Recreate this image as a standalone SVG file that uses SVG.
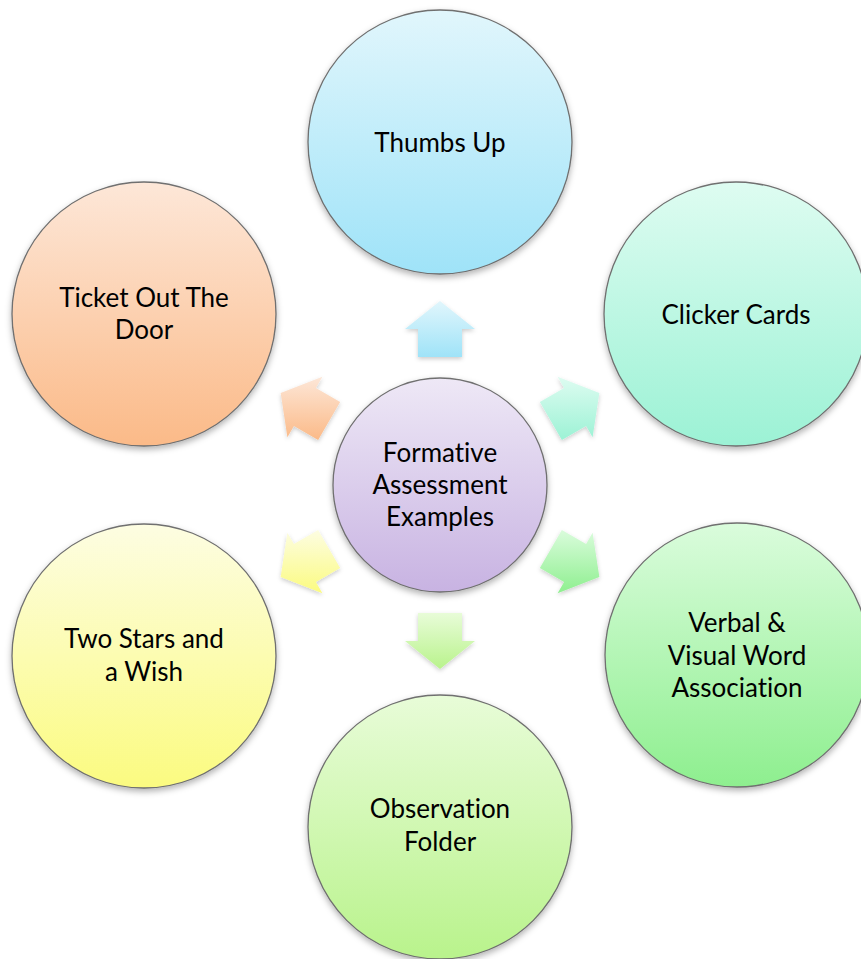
<svg xmlns="http://www.w3.org/2000/svg" width="861" height="959" viewBox="0 0 861 959">
<style>
.node circle{stroke:#6f6f6f;stroke-width:1.3;filter:url(#sh)}
.node text{font-family:Lato,"Liberation Sans",sans-serif;font-size:26px;fill:#000;text-anchor:middle;font-variant-ligatures:none;font-feature-settings:"liga" 0,"dlig" 0}
.arr{filter:url(#sh2)}
</style>
<defs>
<filter id="sh" x="-20%" y="-20%" width="140%" height="140%"><feDropShadow dx="0" dy="3" stdDeviation="3" flood-color="#000" flood-opacity="0.3"/></filter>
<filter id="sh2" x="-30%" y="-30%" width="160%" height="160%"><feDropShadow dx="0" dy="2" stdDeviation="2" flood-color="#000" flood-opacity="0.2"/></filter>
<linearGradient id="gBlue" x1="0" y1="0" x2="0" y2="1"><stop offset="0" stop-color="#e1f6fc"/><stop offset="1" stop-color="#9fe3f8"/></linearGradient>
<linearGradient id="gMint" x1="0" y1="0" x2="0" y2="1"><stop offset="0" stop-color="#defcf1"/><stop offset="1" stop-color="#9cf2d5"/></linearGradient>
<linearGradient id="gGreen" x1="0" y1="0" x2="0" y2="1"><stop offset="0" stop-color="#dafcdc"/><stop offset="1" stop-color="#8eef8f"/></linearGradient>
<linearGradient id="gLime" x1="0" y1="0" x2="0" y2="1"><stop offset="0" stop-color="#e8fcd8"/><stop offset="1" stop-color="#b9f38c"/></linearGradient>
<linearGradient id="gYellow" x1="0" y1="0" x2="0" y2="1"><stop offset="0" stop-color="#fdfde2"/><stop offset="1" stop-color="#fbfb80"/></linearGradient>
<linearGradient id="gOrange" x1="0" y1="0" x2="0" y2="1"><stop offset="0" stop-color="#fde7d8"/><stop offset="1" stop-color="#fbba88"/></linearGradient>
<linearGradient id="gPurple" x1="0" y1="0" x2="0" y2="1"><stop offset="0" stop-color="#eee8f6"/><stop offset="1" stop-color="#c8b3e2"/></linearGradient>
</defs>
<rect width="861" height="959" fill="#fff"/>
<g id="connectors">
<polygon class="arr" fill="url(#gBlue)" points="418,357 418,329 405,329 440,301 475,329 462,329 462,357"/>
<polygon class="arr" fill="url(#gMint)" points="539.85,401.95 564.1,387.95 557.6,376.69 599.35,393 592.6,437.31 586.1,426.05 561.85,440.05"/>
<polygon class="arr" fill="url(#gGreen)" points="561.85,529.95 586.1,543.95 592.6,532.69 599.35,577 557.6,593.31 564.1,582.05 539.85,568.05"/>
<polygon class="arr" fill="url(#gLime)" points="462,613 462,641 475,641 440,669 405,641 418,641 418,613"/>
<polygon class="arr" fill="url(#gYellow)" points="340.15,568.05 315.9,582.05 322.4,593.31 280.65,577 287.4,532.69 293.9,543.95 318.15,529.95"/>
<polygon class="arr" fill="url(#gOrange)" points="318.15,440.05 293.9,426.05 287.4,437.31 280.65,393 322.4,376.69 315.9,387.95 340.15,401.95"/>
</g>
<g id="center" class="node">
<circle cx="440" cy="485" r="107" fill="url(#gPurple)"/>
<text x="440" y="462">Formative</text>
<text x="440" y="494">Assessment</text>
<text x="440" y="526">Examples</text>
</g>
<g id="thumbs-up" class="node">
<circle cx="440" cy="142" r="132" fill="url(#gBlue)"/>
<text x="440" y="152">Thumbs Up</text>
</g>
<g id="clicker-cards" class="node">
<circle cx="736" cy="314" r="132" fill="url(#gMint)"/>
<text x="736" y="324">Clicker Cards</text>
</g>
<g id="verbal-visual" class="node">
<circle cx="737" cy="655" r="132" fill="url(#gGreen)"/>
<text x="737" y="632">Verbal &amp;</text>
<text x="737" y="665">Visual Word</text>
<text x="737" y="697">Association</text>
</g>
<g id="observation-folder" class="node">
<circle cx="440" cy="827" r="132" fill="url(#gLime)"/>
<text x="440" y="818">Observation</text>
<text x="440" y="851">Folder</text>
</g>
<g id="two-stars" class="node">
<circle cx="144" cy="656" r="132" fill="url(#gYellow)"/>
<text x="144" y="648">Two Stars and</text>
<text x="144" y="681">a Wish</text>
</g>
<g id="ticket-out" class="node">
<circle cx="144" cy="314" r="132" fill="url(#gOrange)"/>
<text x="144" y="307">Ticket Out The</text>
<text x="144" y="339">Door</text>
</g>
</svg>
